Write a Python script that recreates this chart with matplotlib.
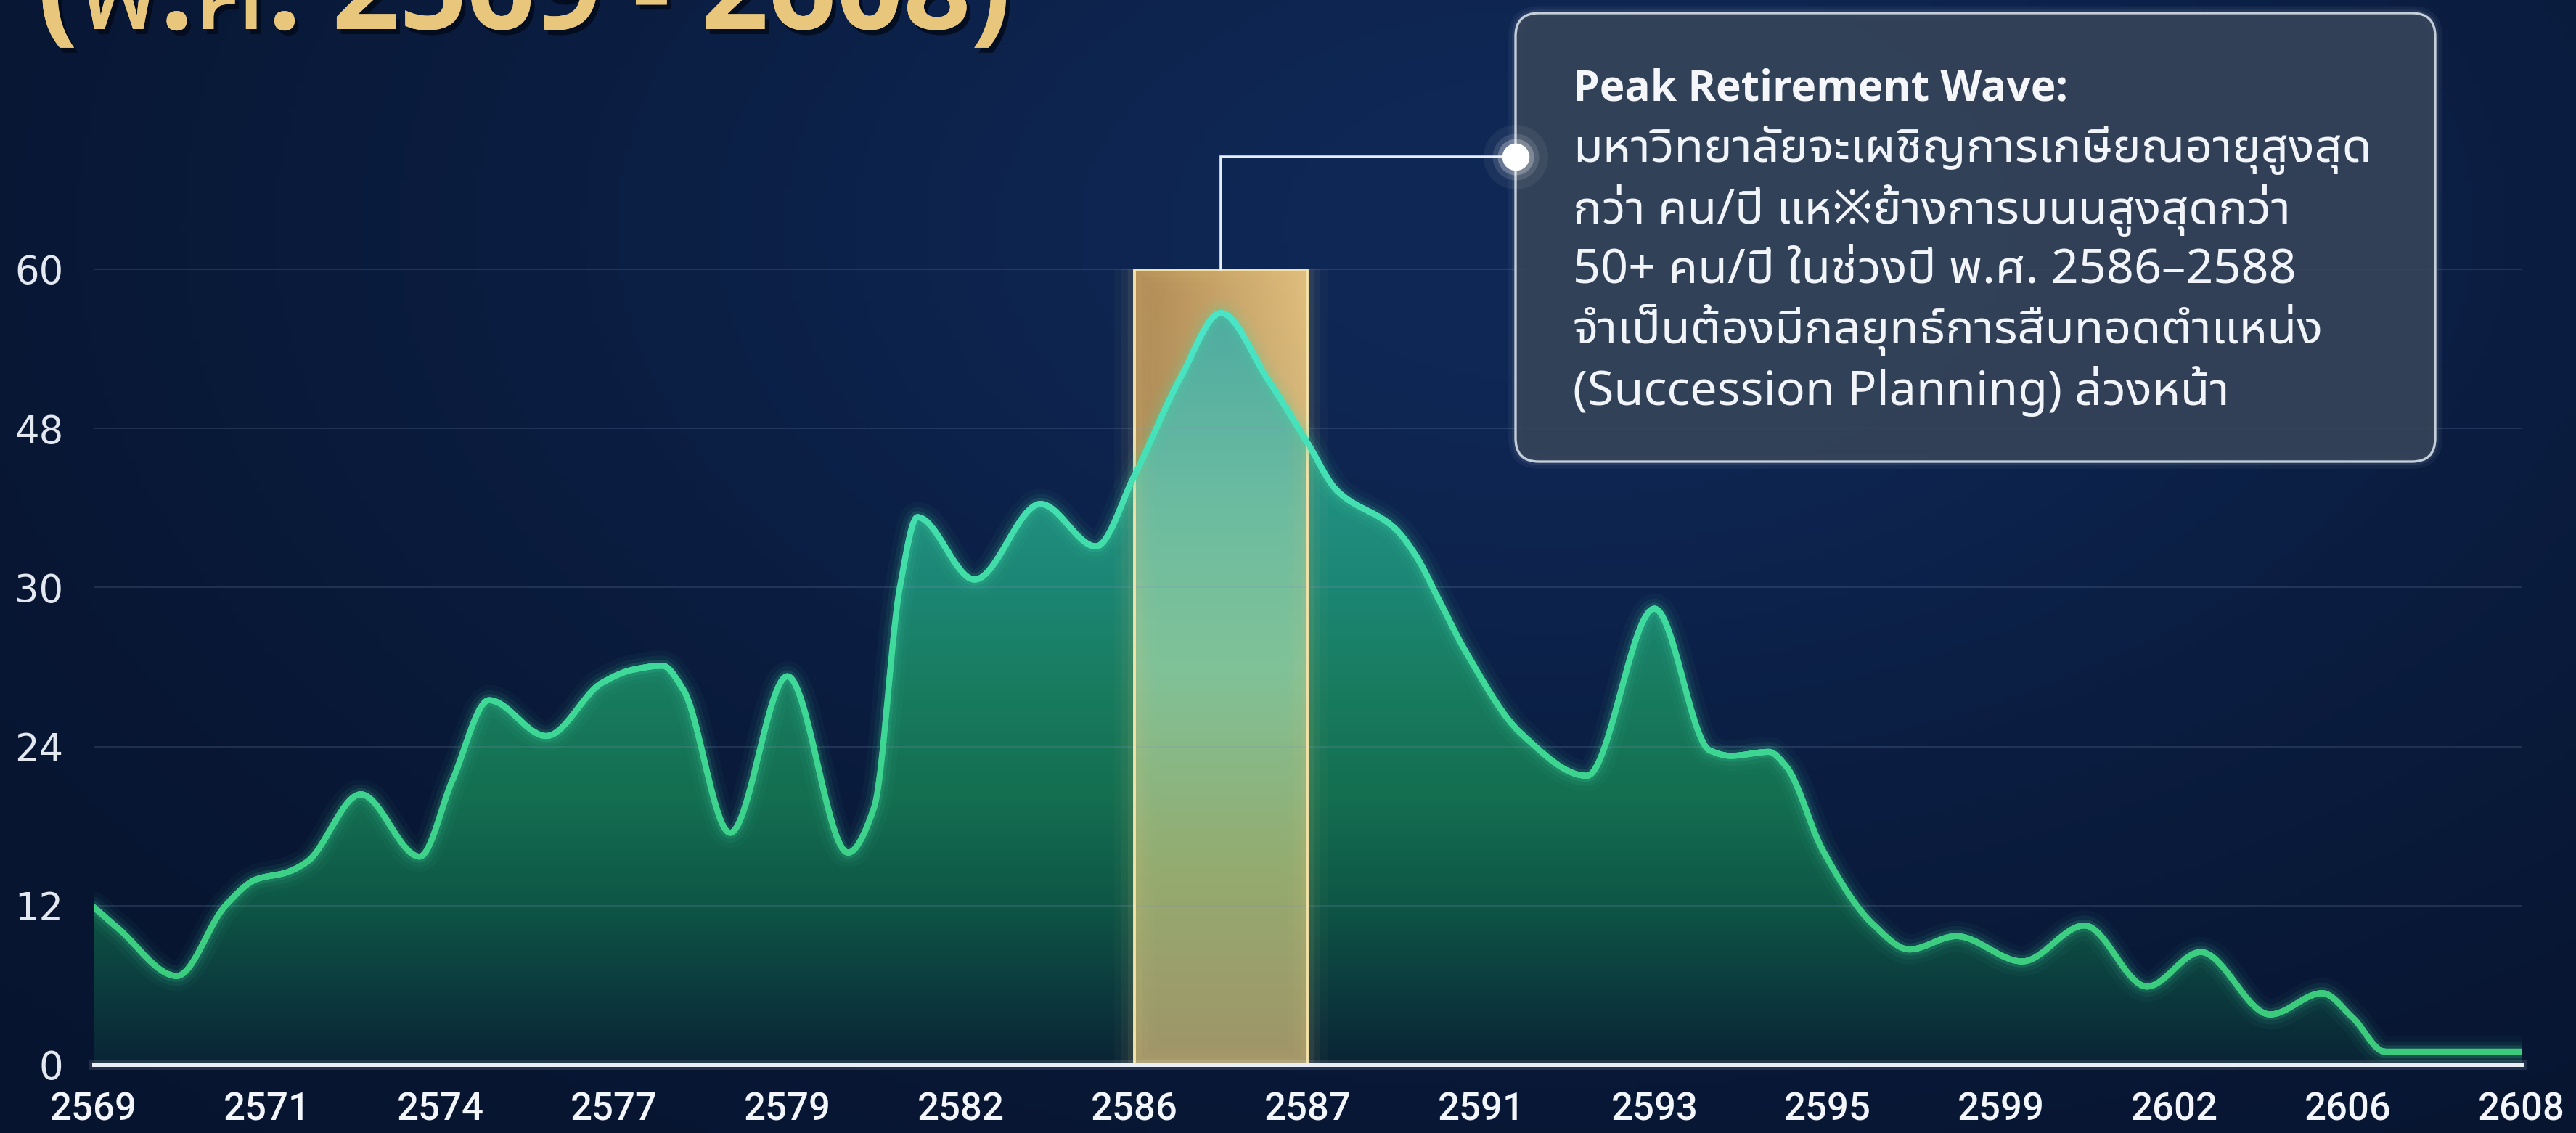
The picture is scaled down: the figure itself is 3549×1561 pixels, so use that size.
import numpy as np
import matplotlib
matplotlib.use("Agg")
import matplotlib.pyplot as plt
from matplotlib import font_manager as fm
from matplotlib.ft2font import FT2Font
from matplotlib.collections import LineCollection
from matplotlib.patches import Rectangle, FancyBboxPatch
from matplotlib.colors import LinearSegmentedColormap
import matplotlib.patheffects as pe

# ---------------- data ----------------
x_labels = ['2569', '2571', '2574', '2577', '2579', '2582', '2586', '2587',
            '2591', '2593', '2595', '2599', '2602', '2606', '2608']
# curve: position in label slots, value
curve_pos = [0.00, 0.14, 0.48, 0.76, 0.94, 1.11, 1.23, 1.54, 1.88, 2.07, 2.28,
             2.61, 2.93, 3.11, 3.28, 3.40, 3.67, 4.00, 4.35, 4.50, 4.65, 4.75,
             5.08, 5.46, 5.78, 6.00, 6.27, 6.50, 6.77, 7.00, 7.17, 7.50, 7.62,
             7.76, 7.91, 8.23, 8.61, 9.00, 9.32, 9.44, 9.66, 9.76, 9.97, 10.26,
             10.47, 10.74, 11.12, 11.48, 11.84, 12.15, 12.55, 12.85, 13.03,
             13.21, 14.00]
curve_val = [11.9, 10.3, 6.7, 12.0, 14.0, 14.5, 15.3, 20.4, 15.7, 21.5, 27.5,
             24.8, 28.8, 29.8, 30.1, 28.3, 17.5, 29.3, 16.0, 19.4, 36.1, 41.3,
             36.6, 42.3, 39.1, 44.4, 51.9, 56.7, 51.7, 46.9, 43.3, 40.5, 38.5,
             35.0, 31.2, 25.0, 21.8, 34.4, 23.7, 23.3, 23.6, 22.5, 16.2, 10.6,
             8.7, 9.7, 7.8, 10.5, 5.9, 8.5, 3.8, 5.4, 3.5, 1.0, 1.0]
y_ticks = [0, 12, 24, 36, 48, 60]
y_tick_labels = ['0', '12', '24', '30', '48', '60']
peak_band = (6, 7)          # slots 2586 -> 2587
peak_band_top = 60
title_text = '(พ.ศ. 2569 - 2608)'
note_title = 'Peak Retirement Wave:'
note_lines = ['มหาวิทยาลัยจะเผชิญการเกษียณอายุสูงสุด',
              'กว่า คน/ปี แห※ย้างการบนนสูงสุดกว่า',
              '50+ คน/ปี ในช่วงปี พ.ศ. 2586–2588',
              'จำเป็นต้องมีกลยุทธ์การสืบทอดตำแหน่ง',
              '(Succession Planning) ล่วงหน้า']

# ---------------- fonts ----------------
def has_char(path, ch):
    try:
        return FT2Font(path).get_char_index(ord(ch)) != 0
    except Exception:
        return False

def wnum(w):
    if isinstance(w, str):
        return fm.weight_dict.get(w, 400)
    return int(w)

thai_fams = []
for fe in fm.fontManager.ttflist:
    if fe.name not in thai_fams and has_char(fe.fname, 'ก'):
        thai_fams.append(fe.name)
pref = [n for n in thai_fams if 'Noto Sans Thai' in n and 'Looped' not in n]
thai_font = (pref or thai_fams or ['DejaVu Sans'])[0]
names = {f.name for f in fm.fontManager.ttflist}

def first_with_bold(cands):
    for c in cands:
        if any(f.name == c and wnum(f.weight) >= 600 for f in fm.fontManager.ttflist):
            return c
    return 'DejaVu Sans'

latin_font = 'Noto Sans' if 'Noto Sans' in names else 'DejaVu Sans'
bold_font = first_with_bold(['Noto Sans', 'Open Sans', 'Roboto', 'Lato', 'Inter', 'DejaVu Sans'])
num_font = 'Roboto' if 'Roboto' in names else 'DejaVu Sans'
TF = [latin_font, thai_font, 'DejaVu Sans']
TFB = [bold_font, thai_font, 'DejaVu Sans']

# ---------------- helpers ----------------
def pchip(x, y, xq):
    x = np.asarray(x, float); y = np.asarray(y, float)
    h = np.diff(x); d = np.diff(y) / h
    m = np.zeros_like(y)
    for k in range(1, len(x) - 1):
        if d[k - 1] * d[k] > 0:
            w1 = 2 * h[k] + h[k - 1]; w2 = h[k] + 2 * h[k - 1]
            m[k] = (w1 + w2) / (w1 / d[k - 1] + w2 / d[k])
    m[0] = d[0]; m[-1] = d[-1]
    i = np.clip(np.searchsorted(x, xq, side='right') - 1, 0, len(x) - 2)
    t = (xq - x[i]) / h[i]
    t2 = t * t; t3 = t2 * t
    return ((2 * t3 - 3 * t2 + 1) * y[i] + (t3 - 2 * t2 + t) * h[i] * m[i]
            + (-2 * t3 + 3 * t2) * y[i + 1] + (t3 - t2) * h[i] * m[i + 1])

def interp_colors(v, stops):
    sv = np.array([s[0] for s in stops], float)
    sc = np.array([s[1] for s in stops], float) / 255.0
    return np.stack([np.interp(v, sv, sc[:, c]) for c in range(sc.shape[1])], axis=-1)

# ---------------- figure ----------------
W, H = 3549, 1561
fig = plt.figure(figsize=(W / 100, H / 100), dpi=100)

# background
bg = fig.add_axes([0, 0, 1, 1], zorder=0)
gy, gx = np.mgrid[0:1:200j, 0:1:400j]          # gy: 0 top -> 1 bottom
base = np.array([7, 20, 46]) / 255.0
hl = np.array([8, 20, 40]) / 255.0
g = np.exp(-(((gx - 0.6) / 0.45) ** 2 + ((gy - 0.2) / 0.6) ** 2))
img = base[None, None, :] + g[..., None] * hl[None, None, :]
bg.imshow(img, extent=[0, 1, 0, 1], origin='upper', aspect='auto')
bg.set_xlim(0, 1); bg.set_ylim(0, 1); bg.axis('off')

# main axes
L, R, T, B = 129, 3474, 371, 1467
ax = fig.add_axes([L / W, (H - B) / H, (R - L) / W, (B - T) / H], zorder=2)
ax.set_facecolor('none')
nx = len(x_labels) - 1

xs = np.linspace(0, nx, 4000)
ys = pchip(curve_pos, curve_val, xs)

# area with vertical gradient
poly = ax.fill_between(xs, ys, 0, facecolor='none', edgecolor='none')
clip_path = poly.get_paths()[0]
vv = np.linspace(0, 60, 600)
area_stops = [(0, (10, 36, 54)), (6, (12, 60, 62)), (12, (14, 86, 70)),
              (20, (20, 110, 80)), (28, (24, 123, 94)), (36, (28, 134, 116)),
              (48, (36, 150, 138)), (60, (48, 168, 158))]
grad = interp_colors(vv, area_stops)[:, None, :]
im = ax.imshow(grad, extent=[0, nx, 0, 60], origin='lower', aspect='auto', zorder=3)
im.set_clip_path(clip_path, transform=ax.transData)

# highlight band (gold)
b0, b1 = peak_band
bx, by = np.meshgrid(np.linspace(0, 1, 60), np.linspace(0, 1, 300))
top_col = (np.array([176, 138, 84])[None, None, :] * (1 - bx[..., None])
           + np.array([224, 190, 126])[None, None, :] * bx[..., None])
bot_col = np.array([166, 150, 104])[None, None, :]
gold = (bot_col * (1 - by[..., None]) + top_col * by[..., None]) / 255.0
ax.imshow(gold, extent=[b0, b1, 0, peak_band_top], origin='lower', aspect='auto', zorder=2.5)
inner_stops = [(0, (160, 148, 104)), (15, (148, 172, 112)), (30, (128, 194, 152)),
               (42, (108, 188, 160)), (56, (80, 172, 160)), (60, (70, 165, 158))]
inner = interp_colors(np.linspace(0, 60, 300), inner_stops)[:, None, :]
im2 = ax.imshow(inner, extent=[b0, b1, 0, 60], origin='lower', aspect='auto', zorder=3.2)
im2.set_clip_path(clip_path, transform=ax.transData)
for lw, a in [(40, 0.03), (26, 0.05), (14, 0.08)]:
    ax.add_patch(Rectangle((b0, 0), b1 - b0, peak_band_top, fill=False,
                           ec='#e8c880', lw=lw, alpha=a, zorder=3.3, joinstyle='round'))
ax.add_patch(Rectangle((b0, 0), b1 - b0, peak_band_top, fill=False,
                       ec='#f4e2a8', lw=2.8, zorder=4))

# grid lines
for yt in y_ticks[1:]:
    ax.axhline(yt, color='#7f95bd', lw=1.3, alpha=0.22, zorder=3.4)

# line with glow
for lw, a in [(30, 0.04), (20, 0.07), (12, 0.14)]:
    ax.plot(xs, ys, color='#44e0a8', lw=lw, alpha=a, zorder=5, solid_capstyle='round')
pts = np.column_stack([xs, ys]).reshape(-1, 1, 2)
segs = np.concatenate([pts[:-1], pts[1:]], axis=1)
cmap_line = LinearSegmentedColormap.from_list('ln', ['#3ccb7c', '#3fd99a', '#4ae4c6'])
mid = (ys[:-1] + ys[1:]) / 2
lc = LineCollection(segs, colors=cmap_line(np.clip((mid - 5) / 50, 0, 1)),
                    linewidths=6, capstyle='round', zorder=6)
ax.add_collection(lc)

# baseline
for lw, a in [(10, 0.12), (3.6, 1.0)]:
    ax.axhline(0, color='#e9eef7', lw=lw, alpha=a, zorder=7, clip_on=False)

ax.set_xlim(0, nx)
ax.set_ylim(0, 60)
ax.set_xticks(range(len(x_labels)), x_labels)
ax.set_yticks(y_ticks, y_tick_labels)
for s in ax.spines.values():
    s.set_visible(False)
ax.tick_params(axis='x', length=0, pad=26, labelsize=38, labelcolor='#f2f5fa')
ax.tick_params(axis='y', length=0, pad=30, labelsize=38, labelcolor='#e2e7f0')
for lab in ax.get_xticklabels():
    lab.set_fontfamily(num_font)
    lab.set_fontweight('medium')
for lab in ax.get_yticklabels():
    lab.set_fontfamily('DejaVu Sans')

# ---------------- overlay: title, annotation ----------------
ov = fig.add_axes([0, 0, 1, 1], zorder=10)
ov.set_xlim(0, W); ov.set_ylim(0, H); ov.axis('off'); ov.set_facecolor('none')

fig.canvas.draw()
rend = fig.canvas.get_renderer()

title = ov.text(52, H - 40, title_text, family=TFB, fontweight='bold', fontsize=100,
                color='#e8c67c', ha='left', va='baseline', zorder=12,
                path_effects=[pe.withSimplePatchShadow(offset=(4, -5), shadow_rgbFace='#030a18', alpha=0.8),
                              pe.Normal()])
w = title.get_window_extent(rend).width
title.set_fontsize(100 * 1340 / w)

# connector from band top to note
sx, sy = ax.transData.transform(((b0 + b1) / 2, peak_band_top))
elbow_y = H - 216
box_x0, box_x1, box_top, box_bot = 2088, 3355, 18, 636
ov.plot([sx, sx, box_x0], [sy, elbow_y, elbow_y], color='#e6ecf4', lw=2.6, zorder=11,
        solid_joinstyle='miter')

# note box
for lw, a in [(14, 0.05), (7, 0.08)]:
    ov.add_patch(FancyBboxPatch((box_x0, H - box_bot), box_x1 - box_x0, box_bot - box_top,
                                boxstyle='round,pad=0,rounding_size=32', fc='none',
                                ec='#dfe6f0', lw=lw, alpha=a, zorder=11))
ov.add_patch(FancyBboxPatch((box_x0, H - box_bot), box_x1 - box_x0, box_bot - box_top,
                            boxstyle='round,pad=0,rounding_size=32', fc=(0.215, 0.27, 0.35, 0.88),
                            ec='#c5cedb', lw=2.4, zorder=11.5))
# glowing dot
for ms, a in [(64, 0.06), (46, 0.12), (36, 0.25)]:
    ov.plot([box_x0], [elbow_y], 'o', ms=ms, color='#ffffff', alpha=a, mec='none', zorder=13)
ov.plot([box_x0], [elbow_y], 'o', ms=27, color='#ffffff', mec='none', zorder=13)

tx = 2167
t0 = ov.text(tx, H - 138, note_title, family=TFB, fontweight='bold', fontsize=40,
             color='#f4f6fa', ha='left', va='baseline', zorder=14)
w = t0.get_window_extent(rend).width
t0.set_fontsize(40 * 682 / w)
baselines = [223, 308, 389, 473, 558]
texts = []
for yb, line in zip(baselines, note_lines):
    texts.append(ov.text(tx, H - yb, line, family=TF, fontsize=40, color='#f1f4f9',
                         ha='left', va='baseline', zorder=14))
w1 = texts[0].get_window_extent(rend).width
fs = 40 * 1102 / w1
for t in texts:
    t.set_fontsize(fs)

fig.savefig('out.png', dpi=100)
